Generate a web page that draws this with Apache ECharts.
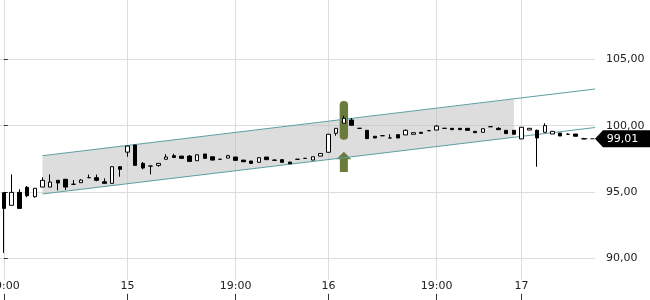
<!DOCTYPE html>
<html><head><meta charset="utf-8">
<script src="https://cdn.jsdelivr.net/npm/echarts@6/dist/echarts.min.js"></script>
<style>html,body{margin:0;padding:0;background:#fff}#c{width:650px;height:300px}</style>
</head><body><div id="c"></div>
<script>
// ---- data ----
const opens  = [94.93,93.98,94.96,95.34,94.63,95.36,95.36,95.87,95.95,95.57,95.69,96.07,96.07,95.76,95.64,96.90,98.00,98.54,97.15,96.95,97.00,97.46,97.73,97.70,97.70,97.35,97.86,97.65,97.46,97.55,97.63,97.40,97.33,97.23,97.63,97.40,97.43,97.25,97.46,97.53,97.40,97.70,97.99,99.42,100.18,100.43,99.80,99.65,99.20,99.24,99.07,99.32,99.30,99.35,99.50,99.62,99.67,99.80,99.80,99.80,99.80,99.57,99.50,99.92,99.80,99.65,99.65,99.00,99.67,99.65,99.50,99.37,99.44,99.35,99.37,99.01];
const closes = [93.75,94.96,93.75,94.71,95.27,95.87,95.74,95.67,95.36,95.57,95.89,96.07,95.87,95.64,96.90,96.70,98.46,97.00,96.80,96.95,97.15,97.63,97.60,97.53,97.30,97.80,97.53,97.40,97.46,97.73,97.38,97.27,97.15,97.58,97.43,97.38,97.23,97.12,97.46,97.53,97.65,97.90,99.35,99.80,100.56,100.03,99.80,99.02,99.07,99.24,99.07,99.07,99.65,99.47,99.42,99.62,99.97,99.80,99.70,99.70,99.65,99.47,99.77,99.92,99.70,99.40,99.35,99.88,99.80,99.07,100.00,99.57,99.22,99.35,99.20,99.01];
const lows   = [90.38,93.98,93.75,94.59,94.56,95.36,95.36,95.11,95.14,95.57,95.69,96.07,95.80,95.64,95.64,96.14,97.65,97.00,96.70,96.32,96.90,97.46,97.60,97.53,97.30,97.35,97.53,97.40,97.46,97.55,97.38,97.27,97.15,97.23,97.43,97.38,97.23,97.12,97.46,97.53,97.40,97.70,97.99,99.24,100.18,100.03,99.80,99.02,99.07,99.24,99.07,99.07,99.30,99.35,99.42,99.62,99.67,99.80,99.70,99.70,99.65,99.47,99.50,99.92,99.70,99.40,99.35,99.00,99.67,96.90,99.50,99.37,99.22,99.35,99.20,99.01];
const highs  = [94.95,96.32,95.19,95.44,95.27,96.10,96.32,95.87,95.95,95.89,95.95,96.30,96.30,96.02,96.90,96.90,98.46,98.54,97.25,96.95,97.15,97.84,97.88,97.70,97.78,97.80,97.86,97.65,97.46,97.80,97.63,97.40,97.33,97.58,97.63,97.46,97.48,97.25,97.46,97.53,97.65,97.90,99.35,99.80,100.75,100.58,99.80,99.65,99.20,99.24,99.35,99.32,99.72,99.47,99.50,99.62,100.05,99.80,99.80,99.80,99.80,99.57,99.77,99.92,99.88,99.65,99.65,99.88,99.80,99.70,100.18,99.57,99.44,99.42,99.37,99.08];
const categoryCount = 77;               // 76 candles + one empty slot at the right
const tickIndex = [0, 16, 30, 42, 56, 67];
const tickText  = ['19:00', '15', '19:00', '16', '19:00', '17'];
const yMin = 85, yMax = 110, yStep = 5;
// trend channel (x in candle-index units)
const channelX     = [5, 76.5];
const channelUpper = [97.73, 102.77];
const channelLower = [94.84, 99.86];
const bandX     = [5, 66];
const bandUpper = [97.73, 102.0];
const bandLower = [94.84, 99.12];
// signal marker
const signalIndex = [44];
const pillLow  = [98.94];
const pillHigh = [101.86];
const arrowTip = [98.03];
const arrowEnd = [96.5];
// last price
const lastPrice = 99.01;
const lastIndex = 75;

// ---- chart ----
const categories = [];
for (let i = 0; i < categoryCount; i++) categories.push('k' + i);
const candleData = opens.map((o, i) => [o, closes[i], lows[i], highs[i]]);
const fmt = v => v.toFixed(2).replace('.', ',');
const isTick = i => tickIndex.indexOf(i) >= 0;
const chart = echarts.init(document.getElementById('c'), null, {renderer: 'canvas'});
const pxPerUnit = (258 - 59.5) / 15;
const gridTop = 59.5 - (yMax - 105) * pxPerUnit;
const gridBottom = 300 - (258 + (90 - yMin) * pxPerUnit);

chart.setOption({
  animation: false,
  backgroundColor: '#fff',
  textStyle: {fontFamily: 'DejaVu Sans'},
  grid: {left: 0, right: 55, top: gridTop, bottom: gridBottom, containLabel: false, outerBoundsMode: 'none'},
  xAxis: [
    {
      type: 'category', data: categories, boundaryGap: true, position: 'bottom', offset: gridBottom,
      axisLine: {show: false},
      axisTick: {show: true, inside: true, length: 6, alignWithLabel: true, interval: i => isTick(i), lineStyle: {color: '#333'}},
      axisLabel: {show: true, inside: true, margin: 7, interval: i => isTick(i),
        formatter: (v, i) => tickText[tickIndex.indexOf(i)], color: '#222', fontSize: 11,
        backgroundColor: '#fff', padding: [1, 1]},
      splitLine: {show: true, alignWithLabel: true, interval: i => isTick(i), lineStyle: {color: '#dddddd', width: 1}}
    },
    {type: 'value', min: -0.5, max: categoryCount - 0.5, show: false}
  ],
  yAxis: {
    type: 'value', position: 'right', min: yMin, max: yMax, interval: yStep,
    axisLine: {show: false},
    axisTick: {show: true, length: 4, lineStyle: {color: '#333'}},
    axisLabel: {margin: 11, color: '#222', fontSize: 11, formatter: fmt},
    splitLine: {show: true, lineStyle: {color: '#dddddd', width: 1}}
  },
  series: [
    {
      type: 'custom', xAxisIndex: 1, yAxisIndex: 0, silent: true, z: 1, data: [[bandX[0], bandLower[0]]],
      renderItem: (p, api) => ({
        type: 'polygon',
        shape: {points: [
          api.coord([bandX[0], bandLower[0]]), api.coord([bandX[1], bandLower[1]]),
          api.coord([bandX[1], bandUpper[1]]), api.coord([bandX[0], bandUpper[0]])]},
        style: {fill: 'rgba(187,187,187,0.5)'}
      })
    },
    {
      type: 'line', xAxisIndex: 1, yAxisIndex: 0, silent: true, symbol: 'none', z: 2,
      data: channelX.map((x, i) => [x, channelUpper[i]]),
      lineStyle: {color: '#5b9fa3', width: 1}
    },
    {
      type: 'line', xAxisIndex: 1, yAxisIndex: 0, silent: true, symbol: 'none', z: 2,
      data: channelX.map((x, i) => [x, channelLower[i]]),
      lineStyle: {color: '#5b9fa3', width: 1}
    },
    {
      type: 'custom', xAxisIndex: 1, yAxisIndex: 0, silent: true, z: 2,
      data: signalIndex.map((x, i) => [x, pillLow[i]]),
      renderItem: (p, api) => {
        const i = p.dataIndex, x = signalIndex[i];
        const top = api.coord([x, pillHigh[i]]), bot = api.coord([x, pillLow[i]]);
        const tip = api.coord([x, arrowTip[i]]), end = api.coord([x, arrowEnd[i]]);
        const cx = top[0], hw = 4.2, head = 7.5, hh = 7.6;
        const col = '#6a7b3c';
        return {type: 'group', children: [
          {type: 'rect', shape: {x: cx - hw, y: top[1], width: hw * 2, height: bot[1] - top[1], r: 4}, style: {fill: col}},
          {type: 'polygon', shape: {points: [
            [cx, tip[1]], [cx + head, tip[1] + hh], [cx + 4, tip[1] + hh], [cx + 4, end[1]],
            [cx - 4, end[1]], [cx - 4, tip[1] + hh], [cx - head, tip[1] + hh]]}, style: {fill: col}}
        ]};
      }
    },
    {
      type: 'candlestick', xAxisIndex: 0, yAxisIndex: 0, z: 3, barWidth: 4,
      data: candleData,
      itemStyle: {color: '#ffffff', color0: '#000000', borderColor: '#000000', borderColor0: '#000000',
        borderColorDoji: '#000000', borderWidth: 1}
    },
    {
      type: 'line', xAxisIndex: 1, yAxisIndex: 0, silent: true, symbol: 'none', z: 3,
      data: [[lastIndex, lastPrice], [categoryCount - 0.5, lastPrice]],
      lineStyle: {color: '#000', width: 1, type: [4, 3]},
      markPoint: {
        silent: true,
        symbol: 'path://M0,8L8,0L55,0L55,16L8,16Z',
        symbolSize: [55, 17],
        symbolOffset: ['50%', 0],
        itemStyle: {color: '#000'},
        label: {show: true, position: 'inside', color: '#fff', fontSize: 11, fontFamily: 'DejaVu Sans', formatter: () => fmt(lastPrice)},
        data: [{coord: [categoryCount - 0.5, lastPrice]}]
      }
    }
  ]
});
</script>
</body></html>
